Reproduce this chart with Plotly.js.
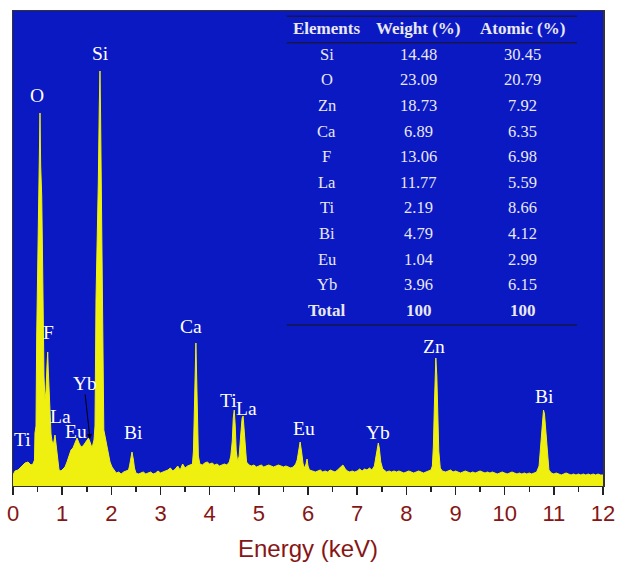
<!DOCTYPE html>
<html>
<head>
<meta charset="utf-8">
<script src="https://cdn.plot.ly/plotly-3.0.1.min.js"></script>
<style>
html, body { margin: 0; padding: 0; background: #ffffff; }
#chart { width: 617px; height: 562px; }
</style>
</head>
<body>
<div id="chart"></div>
<script>
// ---- Spectrum (energy in keV, counts in arbitrary units) ----
const energy = [
  0, 0.041, 0.102, 0.142, 0.183, 0.244, 0.305, 0.366, 0.407, 0.437,
  0.447, 0.468, 0.482, 0.494, 0.515, 0.535, 0.549, 0.563, 0.584, 0.596,
  0.604, 0.616, 0.630, 0.651, 0.671, 0.691, 0.706, 0.718, 0.732, 0.753,
  0.773, 0.793, 0.824, 0.854, 0.875, 0.895, 0.915, 0.936, 0.976, 1.017,
  1.058, 1.098, 1.139, 1.180, 1.220, 1.261, 1.302, 1.342, 1.383, 1.424,
  1.464, 1.505, 1.535, 1.566, 1.607, 1.647, 1.668, 1.688, 1.714, 1.735,
  1.755, 1.769, 1.779, 1.795, 1.810, 1.824, 1.836, 1.847, 1.871, 1.902,
  1.932, 1.973, 2.013, 2.074,
  2.10, 2.15, 2.20, 2.25, 2.30, 2.35, 2.37, 2.39, 2.42, 2.45, 2.47, 2.50,
  2.55, 2.60, 2.65, 2.70, 2.75, 2.80, 2.85, 2.90, 2.95, 3.00, 3.05, 3.10,
  3.15, 3.20, 3.25, 3.30, 3.35, 3.40, 3.45, 3.50, 3.55, 3.60, 3.65,
  3.67, 3.69, 3.71, 3.72, 3.735, 3.75, 3.77, 3.80,
  3.85, 3.90, 3.95, 4.00, 4.05, 4.10, 4.15, 4.20, 4.25, 4.30, 4.35, 4.40, 4.43,
  4.46, 4.48, 4.50, 4.52, 4.54, 4.57, 4.60, 4.63, 4.66, 4.68, 4.70, 4.72, 4.75, 4.80,
  4.85, 4.90, 4.95, 5.00, 5.05, 5.10, 5.15, 5.20, 5.25, 5.30, 5.35, 5.40, 5.45,
  5.50, 5.55, 5.60, 5.65, 5.70, 5.75,
  5.78, 5.81, 5.84, 5.87, 5.90, 5.93, 5.96, 5.98, 6.00, 6.03,
  6.10, 6.15, 6.20, 6.25, 6.30, 6.35, 6.40, 6.45, 6.50, 6.55, 6.60, 6.65, 6.71,
  6.76, 6.80, 6.85, 6.90, 6.95, 7.00, 7.05, 7.10, 7.15, 7.20, 7.25, 7.30, 7.35,
  7.38, 7.41, 7.43, 7.45, 7.48, 7.52, 7.56,
  7.60, 7.65, 7.70, 7.75, 7.80, 7.85, 7.90, 7.95, 8.00, 8.05, 8.10, 8.15, 8.20,
  8.25, 8.30, 8.35, 8.40, 8.45, 8.50,
  8.53, 8.55, 8.57, 8.59, 8.60, 8.62, 8.64, 8.66, 8.69, 8.73,
  8.80, 8.85, 8.90, 8.95, 9.00, 9.05, 9.10, 9.15, 9.20, 9.25, 9.30, 9.35, 9.40,
  9.45, 9.50, 9.55, 9.60, 9.65, 9.70, 9.75, 9.80, 9.85, 9.90, 9.95, 10.00, 10.05,
  10.10, 10.15, 10.20, 10.25, 10.30, 10.35, 10.40, 10.45, 10.50, 10.55, 10.60, 10.65,
  10.70, 10.73, 10.76, 10.79, 10.81, 10.84, 10.87, 10.90, 10.95,
  11.00, 11.05, 11.10, 11.15, 11.20, 11.25, 11.30, 11.35, 11.40, 11.45, 11.50,
  11.55, 11.60, 11.65, 11.70, 11.75, 11.80, 11.85, 11.90, 11.95, 12.00
];
const counts = [
  11, 15, 16, 18, 20, 23, 24, 21, 22, 26,
  53, 60, 150, 200, 280, 340, 373, 320, 290, 246,
  196, 146, 110, 86, 95, 120, 134, 115, 95, 70,
  52, 45, 42, 51, 40, 30, 20, 16, 15, 17,
  19, 24, 31, 36, 38, 44, 48, 43, 39, 40,
  43, 46, 48, 44, 38, 46, 60, 186, 246, 303,
  380, 415, 380, 303, 246, 186, 100, 56, 50, 42,
  32, 24, 19, 15,
  13, 14, 12, 14, 15, 16, 20, 28, 34, 26, 18, 13,
  12, 13, 14, 12, 13, 14, 12, 13, 15, 13, 14, 15,
  16, 18, 15, 17, 20, 16, 22, 18, 20, 21, 22,
  35, 80, 135, 143, 110, 60, 30, 22,
  21, 23, 24, 22, 23, 21, 22, 20, 21, 22, 21, 24, 30,
  45, 68, 76, 60, 35, 24, 30, 50, 68, 70, 55, 35, 24, 21,
  20, 21, 19, 20, 21, 19, 20, 21, 20, 19, 20, 21, 20,
  19, 20, 19, 18, 19, 22,
  26, 36, 44, 34, 22, 18, 22, 27, 20, 16,
  15, 14, 15, 16, 14, 15, 14, 16, 15, 14, 16, 18, 21,
  17, 15, 14, 15, 14, 15, 17, 15, 17, 16, 18, 16, 20,
  28, 40, 43, 38, 24, 17, 15,
  14, 15, 14, 15, 14, 15, 14, 13, 14, 15, 14, 13, 14,
  15, 14, 13, 14, 15, 16,
  20, 40, 80, 120, 128, 110, 70, 35, 18, 15,
  14, 15, 16, 14, 15, 14, 13, 14, 15, 14, 13, 14, 13,
  14, 15, 14, 13, 14, 13, 14, 13, 12, 13, 14, 13, 12,
  13, 14, 13, 12, 13, 12, 13, 12, 13, 12, 13, 14,
  20, 40, 65, 76, 72, 50, 28, 16, 13,
  12, 13, 12, 11, 12, 13, 12, 11, 12, 11, 12,
  11, 12, 11, 12, 11, 12, 11, 12, 11, 11
];

// ---- Peak labels (element, energy keV, label height in counts) ----
const peakNames  = ['O', 'Si', 'F', 'Yb', 'La', 'Eu', 'Ti', 'Bi', 'Ca', 'Ti', 'La', 'Eu', 'Yb', 'Zn', 'Bi'];
const peakLabelE = [0.49, 1.77, 0.73, 1.46, 0.96, 1.28, 0.20, 2.46, 3.62, 4.39, 4.74, 5.92, 7.42, 8.56, 10.80];
const peakLabelH = [391, 433, 154, 103, 70, 55, 47, 54, 160, 86, 78, 58, 54, 140, 90];

// Arrow from the Yb label to its peak
const arrowFromE = 1.464, arrowFromH = 93;
const arrowToE = 1.566, arrowToH = 47;

// ---- Composition table ----
const tableHeader = ['Elements', 'Weight (%)', 'Atomic (%)'];
const elements = ['Si', 'O', 'Zn', 'Ca', 'F', 'La', 'Ti', 'Bi', 'Eu', 'Yb', 'Total'];
const weightPct = ['14.48', '23.09', '18.73', '6.89', '13.06', '11.77', '2.19', '4.79', '1.04', '3.96', '100'];
const atomicPct = ['30.45', '20.79', '7.92', '6.35', '6.98', '5.59', '8.66', '4.12', '2.99', '6.15', '100'];

// ---- Axis ticks ----
const tickVals = [0, 1, 2, 3, 4, 5, 6, 7, 8, 9, 10, 11, 12];
const tickText = tickVals.map(String);

const BLUE = '#0b19c3';
const YELLOW = '#f0f010';
const DARKRED = '#861616';
const TABLE_TXT = '#e8e8f2';
const SERIF = 'Liberation Serif, Times New Roman, serif';
const SANS = 'Liberation Sans, Arial, sans-serif';

const trace = {
  x: energy, y: counts, type: 'scatter', mode: 'lines',
  line: { color: YELLOW, width: 1 },
  fill: 'tozeroy', fillcolor: YELLOW,
  hoverinfo: 'skip'
};

const annotations = [];
peakNames.forEach((n, i) => {
  annotations.push({
    x: peakLabelE[i], y: peakLabelH[i], xref: 'x', yref: 'y',
    text: n, showarrow: false,
    font: { family: SERIF, size: 19.5, color: '#ffffff' },
    xanchor: 'center', yanchor: 'middle'
  });
});
annotations.push({
  x: arrowToE, y: arrowToH, ax: arrowFromE, ay: arrowFromH,
  xref: 'x', yref: 'y', axref: 'x', ayref: 'y',
  text: '', showarrow: true, arrowhead: 2, arrowsize: 1, arrowwidth: 1, arrowcolor: '#000000'
});

// table layout in paper coordinates (plot area: 475 px tall, 590 px wide)
const colX = [0.532, 0.688, 0.864];
const headerY = 0.964;
const rowY0 = 0.909, rowStep = 0.0539;
tableHeader.forEach((h, c) => {
  annotations.push({
    x: colX[c], y: headerY, xref: 'paper', yref: 'paper', text: '<b>' + h + '</b>', showarrow: false,
    font: { family: SERIF, size: 17, color: TABLE_TXT },
    xanchor: 'center', yanchor: 'middle'
  });
});
const cols = [elements, weightPct, atomicPct];
elements.forEach((e, r) => {
  cols.forEach((col, c) => {
    const last = r === elements.length - 1;
    annotations.push({
      x: colX[c], y: rowY0 - r * rowStep, xref: 'paper', yref: 'paper',
      text: last ? '<b>' + col[r] + '</b>' : col[r], showarrow: false,
      font: { family: SERIF, size: last ? 17 : 16.5, color: TABLE_TXT },
      xanchor: 'center', yanchor: 'middle'
    });
  });
});

const tableLineColor = '#16164a';
const shapes = [0.989, 0.933, 0.339].map(yy => ({
  type: 'line', xref: 'paper', yref: 'paper', x0: 0.464, x1: 0.956, y0: yy, y1: yy,
  line: { color: tableLineColor, width: 1.5 }
}));

const layout = {
  width: 617, height: 562,
  margin: { l: 13, r: 14, t: 11, b: 76 },
  paper_bgcolor: '#ffffff',
  plot_bgcolor: BLUE,
  showlegend: false,
  xaxis: {
    range: [0, 12], autorange: false,
    tickvals: tickVals, ticktext: tickText,
    ticks: 'outside', ticklen: 8, tickwidth: 1.5, tickcolor: '#222222',
    minor: { dtick: 0.5, tick0: 0, ticks: 'outside', ticklen: 5, tickwidth: 1.5, tickcolor: '#222222' },
    showline: true, linecolor: '#333333', linewidth: 1, mirror: true,
    showgrid: false, zeroline: false,
    tickfont: { family: SANS, size: 22, color: DARKRED },
    title: { text: 'Energy (keV)', font: { family: SANS, size: 24, color: DARKRED }, standoff: 15 }
  },
  yaxis: {
    range: [0, 475], autorange: false,
    showticklabels: false, ticks: '',
    showline: true, linecolor: '#333333', linewidth: 1.5, mirror: true,
    showgrid: false, zeroline: false
  },
  annotations: annotations,
  shapes: shapes
};

Plotly.newPlot('chart', [trace], layout, { displayModeBar: false, staticPlot: true });
</script>
</body>
</html>
